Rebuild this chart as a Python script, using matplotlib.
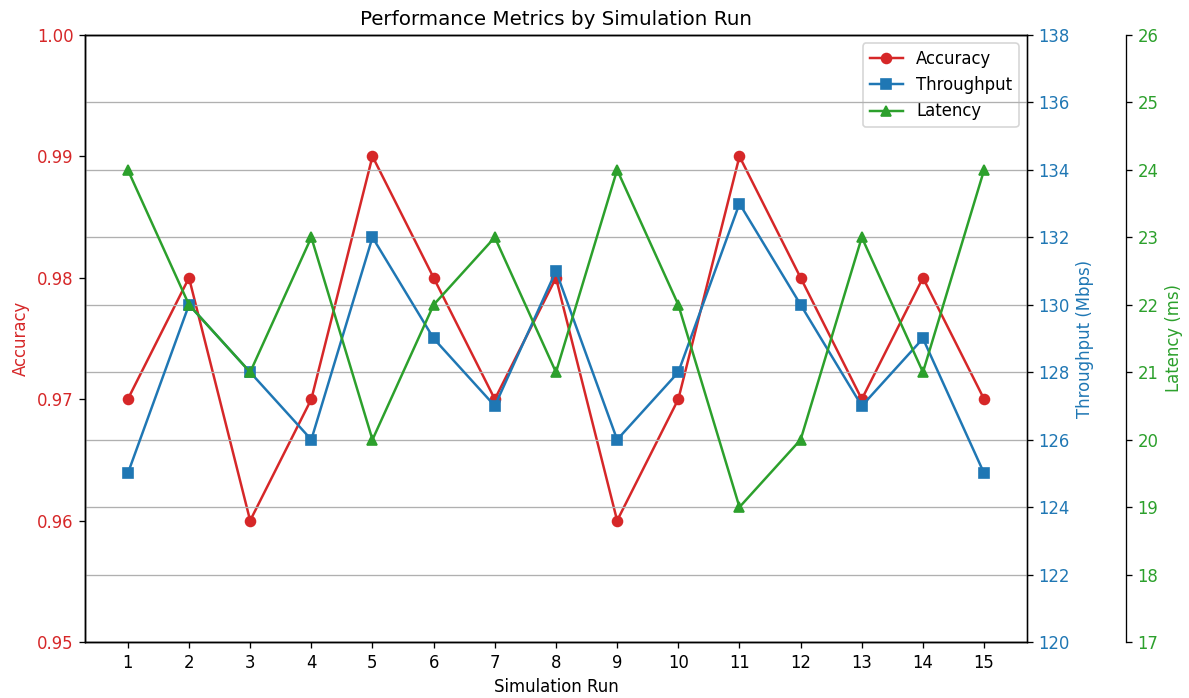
import matplotlib
matplotlib.use("Agg")
import matplotlib.pyplot as plt

runs = list(range(1, 16))
accuracy = [0.97, 0.98, 0.96, 0.97, 0.99, 0.98, 0.97, 0.98, 0.96, 0.97, 0.99, 0.98, 0.97, 0.98, 0.97]
throughput = [125, 130, 128, 126, 132, 129, 127, 131, 126, 128, 133, 130, 127, 129, 125]
latency = [24, 22, 21, 23, 20, 22, 23, 21, 24, 22, 19, 20, 23, 21, 24]

# ~10in wide at 119 dpi gives the 1189x698 canvas with default-sized text
fig, ax1 = plt.subplots(figsize=(1189 / 119, 698 / 119), dpi=119)
fig.subplots_adjust(left=0.0715, right=0.8637, top=0.9499, bottom=0.0802)

# accuracy on the left axis
l1, = ax1.plot(runs, accuracy, color="tab:red", marker="o", label="Accuracy")
ax1.set_xlabel("Simulation Run")
ax1.set_ylabel("Accuracy", color="tab:red")
ax1.tick_params(axis="y", labelcolor="tab:red")
ax1.set_ylim(0.95, 1.00)
ax1.set_xticks(runs)

# throughput on the right axis, grid comes from here
ax2 = ax1.twinx()
l2, = ax2.plot(runs, throughput, color="tab:blue", marker="s", label="Throughput")
ax2.set_ylabel("Throughput (Mbps)", color="tab:blue")
ax2.tick_params(axis="y", labelcolor="tab:blue")
ax2.set_ylim(120, 138)
ax2.grid(True)

# latency on an offset right axis
ax3 = ax1.twinx()
ax3.spines["right"].set_position(("outward", 60))
l3, = ax3.plot(runs, latency, color="tab:green", marker="^", label="Latency")
ax3.set_ylabel("Latency (ms)", color="tab:green")
ax3.tick_params(axis="y", labelcolor="tab:green")
ax3.set_ylim(17, 26)

ax1.legend(handles=[l1, l2, l3], loc="upper right")
ax1.set_title("Performance Metrics by Simulation Run")

plt.savefig("out.png", dpi=119)
